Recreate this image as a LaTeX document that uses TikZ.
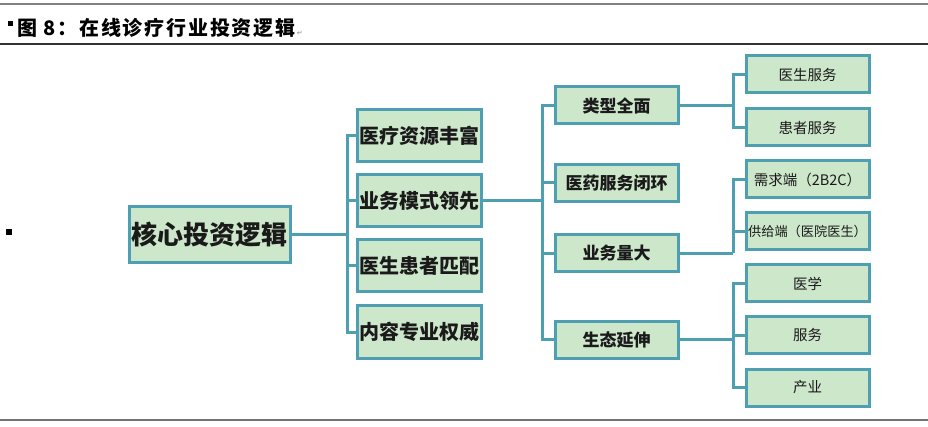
\documentclass[tikz,border=0pt]{standalone}
\usepackage{fontspec}
\setmainfont{Noto Sans CJK SC}
\newfontfamily\titlefont[LetterSpace=9]{Noto Sans CJK SC}
\newfontfamily\symfont{DejaVu Sans}
\definecolor{boxfill}{HTML}{CDE7CB}
\definecolor{boxedge}{HTML}{4E9FB2}
\definecolor{txt}{HTML}{1A1A1A}
\begin{document}
\begin{tikzpicture}[x=1pt,y=-1pt,
  box/.style={draw=boxedge, fill=boxfill, line width=3pt, inner sep=0pt, text=txt, align=center},
  corebox/.style={box, minimum width=161pt, minimum height=56pt, font=\fontsize{26}{28}\selectfont\bfseries},
  lvtwo/.style={box, minimum width=124pt, minimum height=52pt, font=\fontsize{20}{22}\selectfont\bfseries},
  lvthree/.style={box, minimum width=123pt, minimum height=37pt, font=\fontsize{17}{19}\selectfont\bfseries},
  lvfour/.style={box, minimum width=123pt, minimum height=37pt, font=\fontsize{14.5}{16}\selectfont},
  conn/.style={draw=boxedge, line width=3pt, line join=miter}]
\useasboundingbox (0,0) rectangle (928,427);
\fill[white] (0,0) rectangle (928,427);
% header and footer rules
\coordinate (tl) at (0,4); \coordinate (tr) at (928,4);
\coordinate (ml) at (0,44); \coordinate (mr) at (928,44);
\coordinate (bl) at (0,420); \coordinate (br) at (928,420);
\draw[color=black!50, line width=1.2pt] (tl) -- (tr);
\draw[color=black!80, line width=1.2pt] (ml) -- (mr);
\draw[color=black!55, line width=1.2pt] (bl) -- (br);
% title
\node[fill=black, minimum size=5pt, inner sep=0pt] (tb) at (10,23.5) {};
\node[anchor=west, inner sep=0pt, font=\titlefont\fontsize{20}{22}\selectfont\bfseries] (title) at (17,28) {图 8：在线诊疗行业投资逻辑};
\node[anchor=south west, inner sep=0pt, text=black!45, font=\symfont\fontsize{7}{8}\selectfont] (ret) at ([xshift=1pt,yshift=2pt]title.south east) {↵};
\node[fill=black, minimum size=6pt, inner sep=0pt] (mb) at (8.5,232.5) {};
% boxes
\node[corebox] (core) at (209.5,235) {核心投资逻辑};
\node[lvtwo] (a1) at (419,135.5) {医疗资源丰富};
\node[lvtwo] (a2) at (419,201) {业务模式领先};
\node[lvtwo] (a3) at (419,266) {医生患者匹配};
\node[lvtwo] (a4) at (419,332) {内容专业权威};
\node[lvthree] (b1) at (616.5,105.5) {类型全面};
\node[lvthree] (b2) at (616.5,183) {医药服务闭环};
\node[lvthree] (b3) at (616.5,253.5) {业务量大};
\node[lvthree] (b4) at (616.5,339.5) {生态延伸};
\node[lvfour] (c1) at (807.5,74.5) {医生服务};
\node[lvfour] (c2) at (807.5,127.5) {患者服务};
\node[lvfour] (c3) at (807.5,179.5) {需求端（2B2C）};
\node[lvfour, font=\fontsize{13.2}{15}\selectfont] (c4) at (807.5,231.5) {供给端（医院医生）};
\node[lvfour] (c5) at (807.5,283.5) {医学};
\node[lvfour] (c6) at (807.5,335) {服务};
\node[lvfour] (c7) at (807.5,387.5) {产业};
% junctions
\coordinate (j1) at (347,235);
\coordinate (j2) at (542,201);
\coordinate (j3) at (733,105.5);
\coordinate (j4) at (733,253.5);
\coordinate (j5) at (733,339.5);
% connectors
\draw[conn] (core.east) -- (j1);
\draw[conn] (a1.west) -| (j1) |- (a4.west);
\draw[conn] (j1) |- (a2.west);
\draw[conn] (j1) |- (a3.west);
\draw[conn] (a2.east) -- (j2);
\draw[conn] (b1.west) -| (j2) |- (b4.west);
\draw[conn] (j2) |- (b2.west);
\draw[conn] (j2) |- (b3.west);
\draw[conn] (b1.east) -- (j3);
\draw[conn] (c1.west) -| (j3) |- (c2.west);
\draw[conn] (b3.east) -- (j4);
\draw[conn] (c3.west) -| (j4);
\draw[conn] (j4) |- (c4.west);
\draw[conn] (b4.east) -- (j5);
\draw[conn] (c5.west) -| (j5) |- (c7.west);
\draw[conn] (j5) |- (c6.west);
\end{tikzpicture}
\end{document}
